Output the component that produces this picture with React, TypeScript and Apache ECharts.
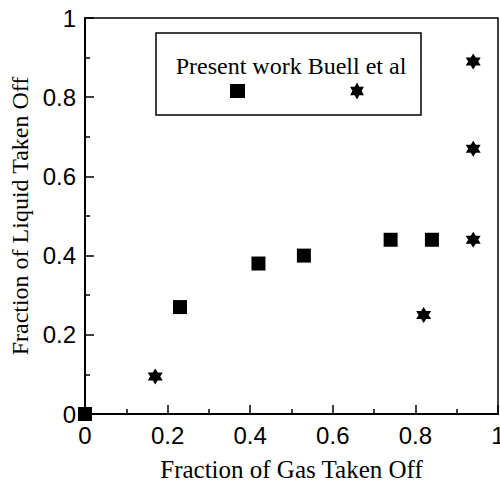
import React, { useEffect, useRef } from "react";
import * as echarts from "echarts";

const presentWork: [number, number][] = [
  [0, 0],
  [0.23, 0.27],
  [0.42, 0.38],
  [0.53, 0.4],
  [0.74, 0.44],
  [0.84, 0.44],
];
const buellEtAl: [number, number][] = [
  [0.17, 0.095],
  [0.82, 0.25],
  [0.94, 0.44],
  [0.94, 0.67],
  [0.94, 0.89],
];
const seriesNames = ["Present work", "Buell et al"];
const xTitle = "Fraction of Gas Taken Off";
const yTitle = "Fraction of Liquid Taken Off";

const STAR =
  "path://M0,-1000 L289,-500 L866,-500 L577,0 L866,500 L289,500 L0,1000 L-289,500 L-866,500 L-577,0 L-866,-500 L-289,-500 Z";

function starPoints(cx: number, cy: number, rx: number, ry: number): number[][] {
  const pts: number[][] = [];
  for (let i = 0; i < 12; i++) {
    const ang = (-90 + i * 30) * (Math.PI / 180);
    const r = i % 2 === 0 ? 1 : 0.577;
    pts.push([cx + Math.cos(ang) * r * rx, cy + Math.sin(ang) * r * ry]);
  }
  return pts;
}

export default function App() {
  const ref = useRef<HTMLDivElement>(null);
  useEffect(() => {
    if (!ref.current) return;
    const chart = echarts.init(ref.current, undefined, { renderer: "svg" });
    const axisLabel = {
      color: "#000",
      fontFamily: "Liberation Sans, Arial, sans-serif",
      fontSize: 24,
      margin: 9,
    };
    const nameStyle = {
      color: "#000",
      fontFamily: "Liberation Serif, Times New Roman, serif",
      fontSize: 25,
    };
    chart.setOption({
      animation: false,
      backgroundColor: "#fff",
      grid: {
        left: 85,
        right: 2,
        top: 18,
        bottom: 68,
        outerBoundsMode: "none",
        containLabel: false,
        show: true,
        borderColor: "#000",
        borderWidth: 1.5,
      },
      xAxis: {
        type: "value",
        min: 0,
        max: 1,
        interval: 0.2,
        name: xTitle,
        nameLocation: "middle",
        nameGap: 43,
        nameTextStyle: nameStyle,
        axisLine: { show: true, lineStyle: { color: "#000", width: 2 } },
        axisTick: { show: true, inside: true, length: 9, lineStyle: { color: "#000", width: 1.5 } },
        minorTick: { show: true, splitNumber: 2, length: 5, lineStyle: { color: "#000", width: 1.5 } },
        splitLine: { show: false },
        axisLabel,
      },
      yAxis: {
        type: "value",
        min: 0,
        max: 1,
        interval: 0.2,
        name: yTitle,
        nameLocation: "middle",
        nameGap: 51,
        nameTextStyle: { ...nameStyle, fontSize: 24 },
        axisLine: { show: true, lineStyle: { color: "#000", width: 2 } },
        axisTick: { show: true, inside: true, length: 9, lineStyle: { color: "#000", width: 1.5 } },
        minorTick: { show: true, splitNumber: 2, length: 5, lineStyle: { color: "#000", width: 1.5 } },
        splitLine: { show: false },
        axisLabel,
      },
      series: [
        {
          name: seriesNames[0],
          type: "scatter",
          data: presentWork,
          symbol: "rect",
          symbolSize: 14,
          clip: false,
          itemStyle: { color: "#000", opacity: 1 },
          emphasis: { disabled: true },
        },
        {
          name: seriesNames[1],
          type: "scatter",
          data: buellEtAl,
          symbol: STAR,
          symbolSize: [15, 16],
          clip: false,
          itemStyle: { color: "#000", opacity: 1 },
          emphasis: { disabled: true },
        },
      ],
      graphic: [
        {
          type: "rect",
          shape: { x: 156, y: 33, width: 265, height: 82 },
          style: { fill: "#fff", stroke: "#000", lineWidth: 1.5 },
          z: 10,
        },
        {
          type: "text",
          x: 291,
          y: 66,
          style: {
            text: seriesNames[0] + " " + seriesNames[1],
            fill: "#000",
            font: "24px 'Liberation Serif', 'Times New Roman', serif",
            align: "center",
            verticalAlign: "middle",
          },
          z: 11,
        },
        {
          type: "rect",
          shape: { x: 230, y: 84, width: 15, height: 14 },
          style: { fill: "#000" },
          z: 11,
        },
        {
          type: "polygon",
          shape: { points: starPoints(357, 91, 8, 8.5) },
          style: { fill: "#000" },
          z: 11,
        },
      ],
    });
    return () => chart.dispose();
  }, []);
  return (
    <div
      ref={ref}
      style={{ position: "fixed", left: 0, top: 0, width: 500, height: 482 }}
    />
  );
}
